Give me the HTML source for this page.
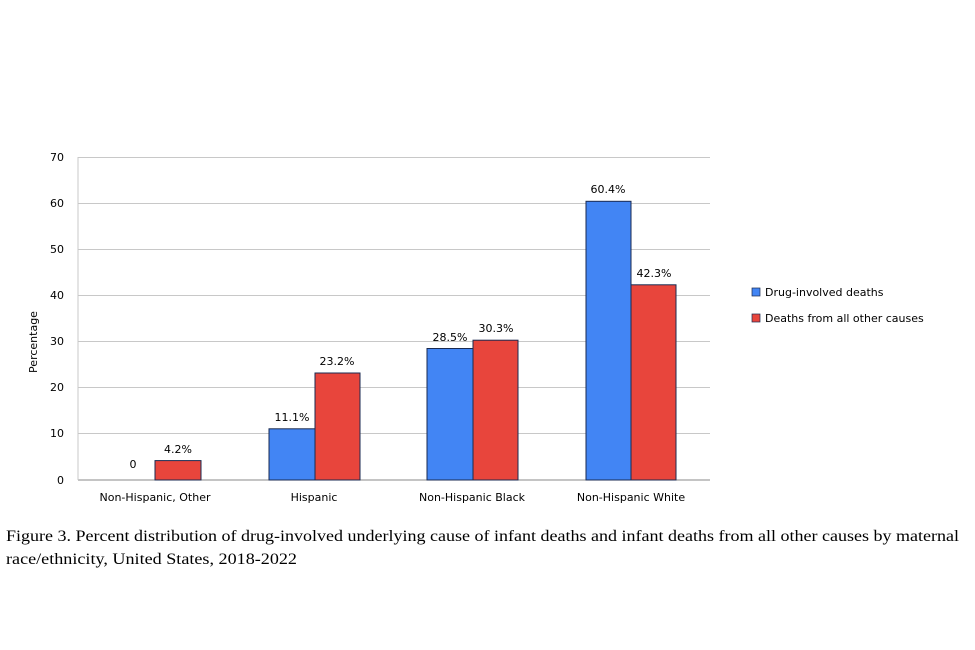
<!DOCTYPE html>
<html><head><style>body{margin:0;background:#fff}svg{display:block}</style></head><body>
<svg width="975" height="650" xmlns="http://www.w3.org/2000/svg" font-family="'DejaVu Sans','Liberation Sans',sans-serif">
<rect width="975" height="650" fill="#fff"/>
<g stroke="#c8c8c8" stroke-width="1">
<line x1="78" y1="157.5" x2="710" y2="157.5"/>
<line x1="78" y1="203.5" x2="710" y2="203.5"/>
<line x1="78" y1="249.5" x2="710" y2="249.5"/>
<line x1="78" y1="295.5" x2="710" y2="295.5"/>
<line x1="78" y1="341.5" x2="710" y2="341.5"/>
<line x1="78" y1="387.5" x2="710" y2="387.5"/>
<line x1="78" y1="433.5" x2="710" y2="433.5"/>
</g>
<line x1="78" y1="480" x2="710" y2="480" stroke="#888" stroke-width="1"/>
<line x1="78" y1="157" x2="78" y2="480" stroke="#c8c8c8" stroke-width="1"/>
<g font-size="11" fill="#000" text-anchor="end">
<text x="64" y="161">70</text><text x="64" y="207">60</text><text x="64" y="253">50</text>
<text x="64" y="299">40</text><text x="64" y="345">30</text><text x="64" y="391">20</text>
<text x="64" y="437">10</text><text x="64" y="484">0</text>
</g>
<text transform="translate(37,342) rotate(-90)" font-size="11" text-anchor="middle">Percentage</text>
<g stroke="#1a2a50" stroke-width="1">
<rect x="155" y="460.6" width="46" height="19.4" fill="#e8453c"/>
<rect x="269" y="428.8" width="46" height="51.2" fill="#4285f4"/>
<rect x="315" y="373" width="45" height="107" fill="#e8453c"/>
<rect x="427" y="348.5" width="46" height="131.5" fill="#4285f4"/>
<rect x="473" y="340.2" width="45" height="139.8" fill="#e8453c"/>
<rect x="586" y="201.3" width="45" height="278.7" fill="#4285f4"/>
<rect x="631" y="284.8" width="45" height="195.2" fill="#e8453c"/>
</g>
<g font-size="11" text-anchor="middle">
<text x="133" y="468">0</text><text x="178" y="453">4.2%</text>
<text x="292" y="421">11.1%</text><text x="337" y="365">23.2%</text>
<text x="450" y="341">28.5%</text><text x="496" y="332">30.3%</text>
<text x="608" y="193">60.4%</text><text x="654" y="277">42.3%</text>
<text x="155" y="501">Non-Hispanic, Other</text><text x="314" y="501">Hispanic</text>
<text x="472" y="501">Non-Hispanic Black</text><text x="631" y="501">Non-Hispanic White</text>
</g>
<rect x="752" y="288" width="8" height="8" fill="#4285f4" stroke="#1a2a50" stroke-width="0.7"/>
<text x="765" y="296" font-size="11">Drug-involved deaths</text>
<rect x="752" y="314" width="8" height="8" fill="#e8453c" stroke="#1a2a50" stroke-width="0.7"/>
<text x="765" y="322" font-size="11">Deaths from all other causes</text>
<g font-family="'Liberation Serif',serif" font-size="16">
<text x="6" y="541" textLength="953" lengthAdjust="spacingAndGlyphs">Figure 3. Percent distribution of drug-involved underlying cause of infant deaths and infant deaths from all other causes by maternal</text>
<text x="6" y="564" textLength="291" lengthAdjust="spacingAndGlyphs">race/ethnicity, United States, 2018-2022</text>
</g>
</svg>
</body></html>
